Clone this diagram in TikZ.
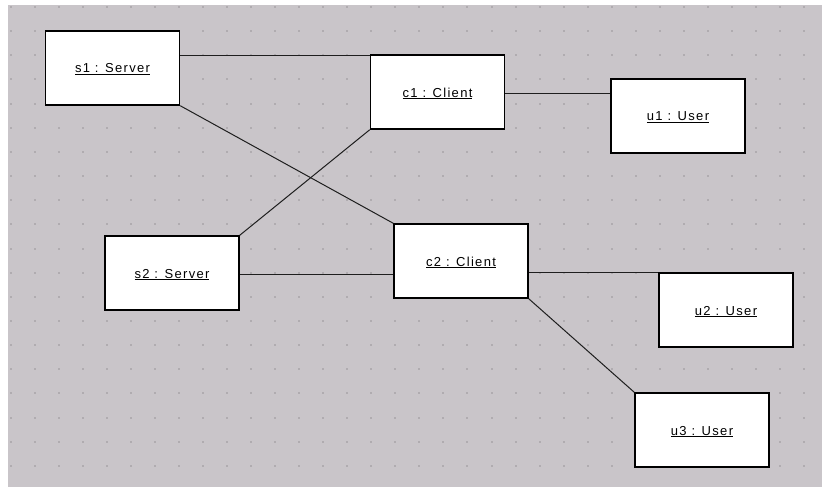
\documentclass[tikz,border=0pt]{standalone}
\usepackage{fontspec}
\usetikzlibrary{calc}
\setmainfont{Liberation Sans}[LetterSpace=10]
\definecolor{canvas}{RGB}{201,197,201}
\definecolor{griddot}{RGB}{176,172,176}
\definecolor{wire}{RGB}{30,30,30}
\tikzset{
  obj/.style={draw=black, fill=white, line width=1.4pt, minimum width=134pt,
    minimum height=74pt, inner sep=0pt, text height=11pt, text depth=1pt,
    font=\fontsize{13pt}{15pt}\selectfont},
  link/.style={draw=wire, line width=1pt}
}
\newcommand{\objname}[1]{\underline{#1}}
\begin{document}
\begin{tikzpicture}[x=1pt, y=-1pt]
  \useasboundingbox (0,0) rectangle (822,487);
  % drawing canvas with its dot grid
  \fill[canvas] (8,5) rectangle (822,487);
  \foreach \i in {0,...,33} {
    \foreach \j in {0,...,19} {
      \fill[griddot] ({9.5+24.05*\i},{6+24.15*\j}) rectangle ++(2,2);
    }
  }
  % objects
  \node[obj] (s1) at (112.5,68) {\objname{s1 : Server}};
  \node[obj] (c1) at (437.5,92) {\objname{c1 : Client}};
  \node[obj] (u1) at (678,116) {\objname{u1 : User}};
  \node[obj] (s2) at (172,273) {\objname{s2 : Server}};
  \node[obj] (c2) at (461,261) {\objname{c2 : Client}};
  \node[obj] (u2) at (726,310) {\objname{u2 : User}};
  \node[obj] (u3) at (702,430) {\objname{u3 : User}};
  % links
  \draw[link] ($(s1.east |- c1.north west)+(0,1.5)$) -- ($(c1.north west)+(0,1.5)$);
  \draw[link] ($(c1.east)+(0,1)$) -- ($(c1.east -| u1.west)+(0,1)$);
  \draw[link] (s1.south east) -- (c2.north west);
  \draw[link] (s2.north east) -- (c1.south west);
  \draw[link] ($(s2.east)+(0,1)$) -- ($(s2.east -| c2.west)+(0,1)$);
  \draw[link] (c2.east |- u2.north west) -- (u2.north west);
  \draw[link] (c2.south east) -- (u3.north west);
\end{tikzpicture}
\end{document}
